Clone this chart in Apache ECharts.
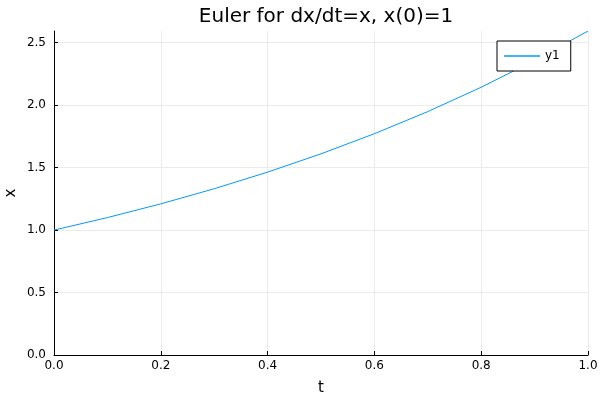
<!DOCTYPE html>
<html>
<head>
<meta charset="utf-8">
<script src="https://cdn.jsdelivr.net/npm/echarts@6/dist/echarts.min.js"></script>
<style>html,body{margin:0;padding:0;background:#fff}#c{width:600px;height:400px}</style>
</head>
<body>
<div id="c"></div>
<script>
const tValues = [0, 0.1, 0.2, 0.3, 0.4, 0.5, 0.6, 0.7, 0.8, 0.9, 1.0];
const xValues = [1, 1.1, 1.21, 1.331, 1.4641, 1.61051, 1.771561, 1.9487171, 2.14358881, 2.357947691, 2.5937424601];
const yTicks = [0, 0.5, 1.0, 1.5, 2.0, 2.5];
const xTicks = [0, 0.2, 0.4, 0.6, 0.8, 1.0];
const seriesName = 'y1';

const font = 'DejaVu Sans';
const chart = echarts.init(document.getElementById('c'), null, {renderer: 'canvas'});
chart.setOption({
  animation: false,
  backgroundColor: '#fff',
  title: {
    text: 'Euler for dx/dt=x, x(0)=1',
    left: 321, top: 2, textAlign: 'center',
    textStyle: {fontFamily: font, fontSize: 20, fontWeight: 'normal', color: '#000'}
  },
  legend: {
    left: 497, top: 41,
    data: [{name: seriesName, icon: 'rect'}],
    itemWidth: 36, itemHeight: 1.5, itemGap: 0,
    padding: [9, 11, 9, 7],
    borderColor: '#000', borderWidth: 1, backgroundColor: '#fff',
    textStyle: {fontFamily: font, fontSize: 12, color: '#000'}
  },
  grid: {left: 54, right: 12, top: 31, bottom: 45, containLabel: false, outerBoundsMode: 'none'},
  xAxis: {
    type: 'value', min: 0, max: 1, interval: 0.2,
    name: 't', nameLocation: 'middle', nameGap: 26, nameMoveOverlap: false,
    nameTextStyle: {fontFamily: font, fontSize: 15, color: '#000'},
    axisLine: {show: true, onZero: false, lineStyle: {color: '#000', width: 1}},
    axisTick: {show: true, inside: true, length: 4, lineStyle: {color: '#000'}, customValues: xTicks},
    axisLabel: {fontFamily: font, fontSize: 12, color: '#000', margin: 5, customValues: xTicks,
      formatter: v => v.toFixed(1)},
    splitLine: {show: true, lineStyle: {color: '#ebebeb', width: 1}}
  },
  yAxis: {
    type: 'value', min: 0, max: 2.5937424601,
    name: 'x', nameLocation: 'middle', nameGap: 35, nameMoveOverlap: false,
    nameTextStyle: {fontFamily: font, fontSize: 15, color: '#000'},
    axisLine: {show: true, onZero: false, lineStyle: {color: '#000', width: 1}},
    axisTick: {show: true, inside: true, length: 4, lineStyle: {color: '#000'}, customValues: yTicks},
    axisLabel: {fontFamily: font, fontSize: 12, color: '#000', margin: 8, customValues: yTicks,
      formatter: v => v.toFixed(1)},
    splitLine: {show: true, lineStyle: {color: '#ebebeb', width: 1}}
  },
  series: [{
    name: seriesName, type: 'line', showSymbol: false, symbol: 'none',
    data: tValues.map((t, i) => [t, xValues[i]]),
    lineStyle: {color: '#009af9', width: 1},
    itemStyle: {color: '#009af9'},
    clip: true
  }]
});
</script>
</body>
</html>
